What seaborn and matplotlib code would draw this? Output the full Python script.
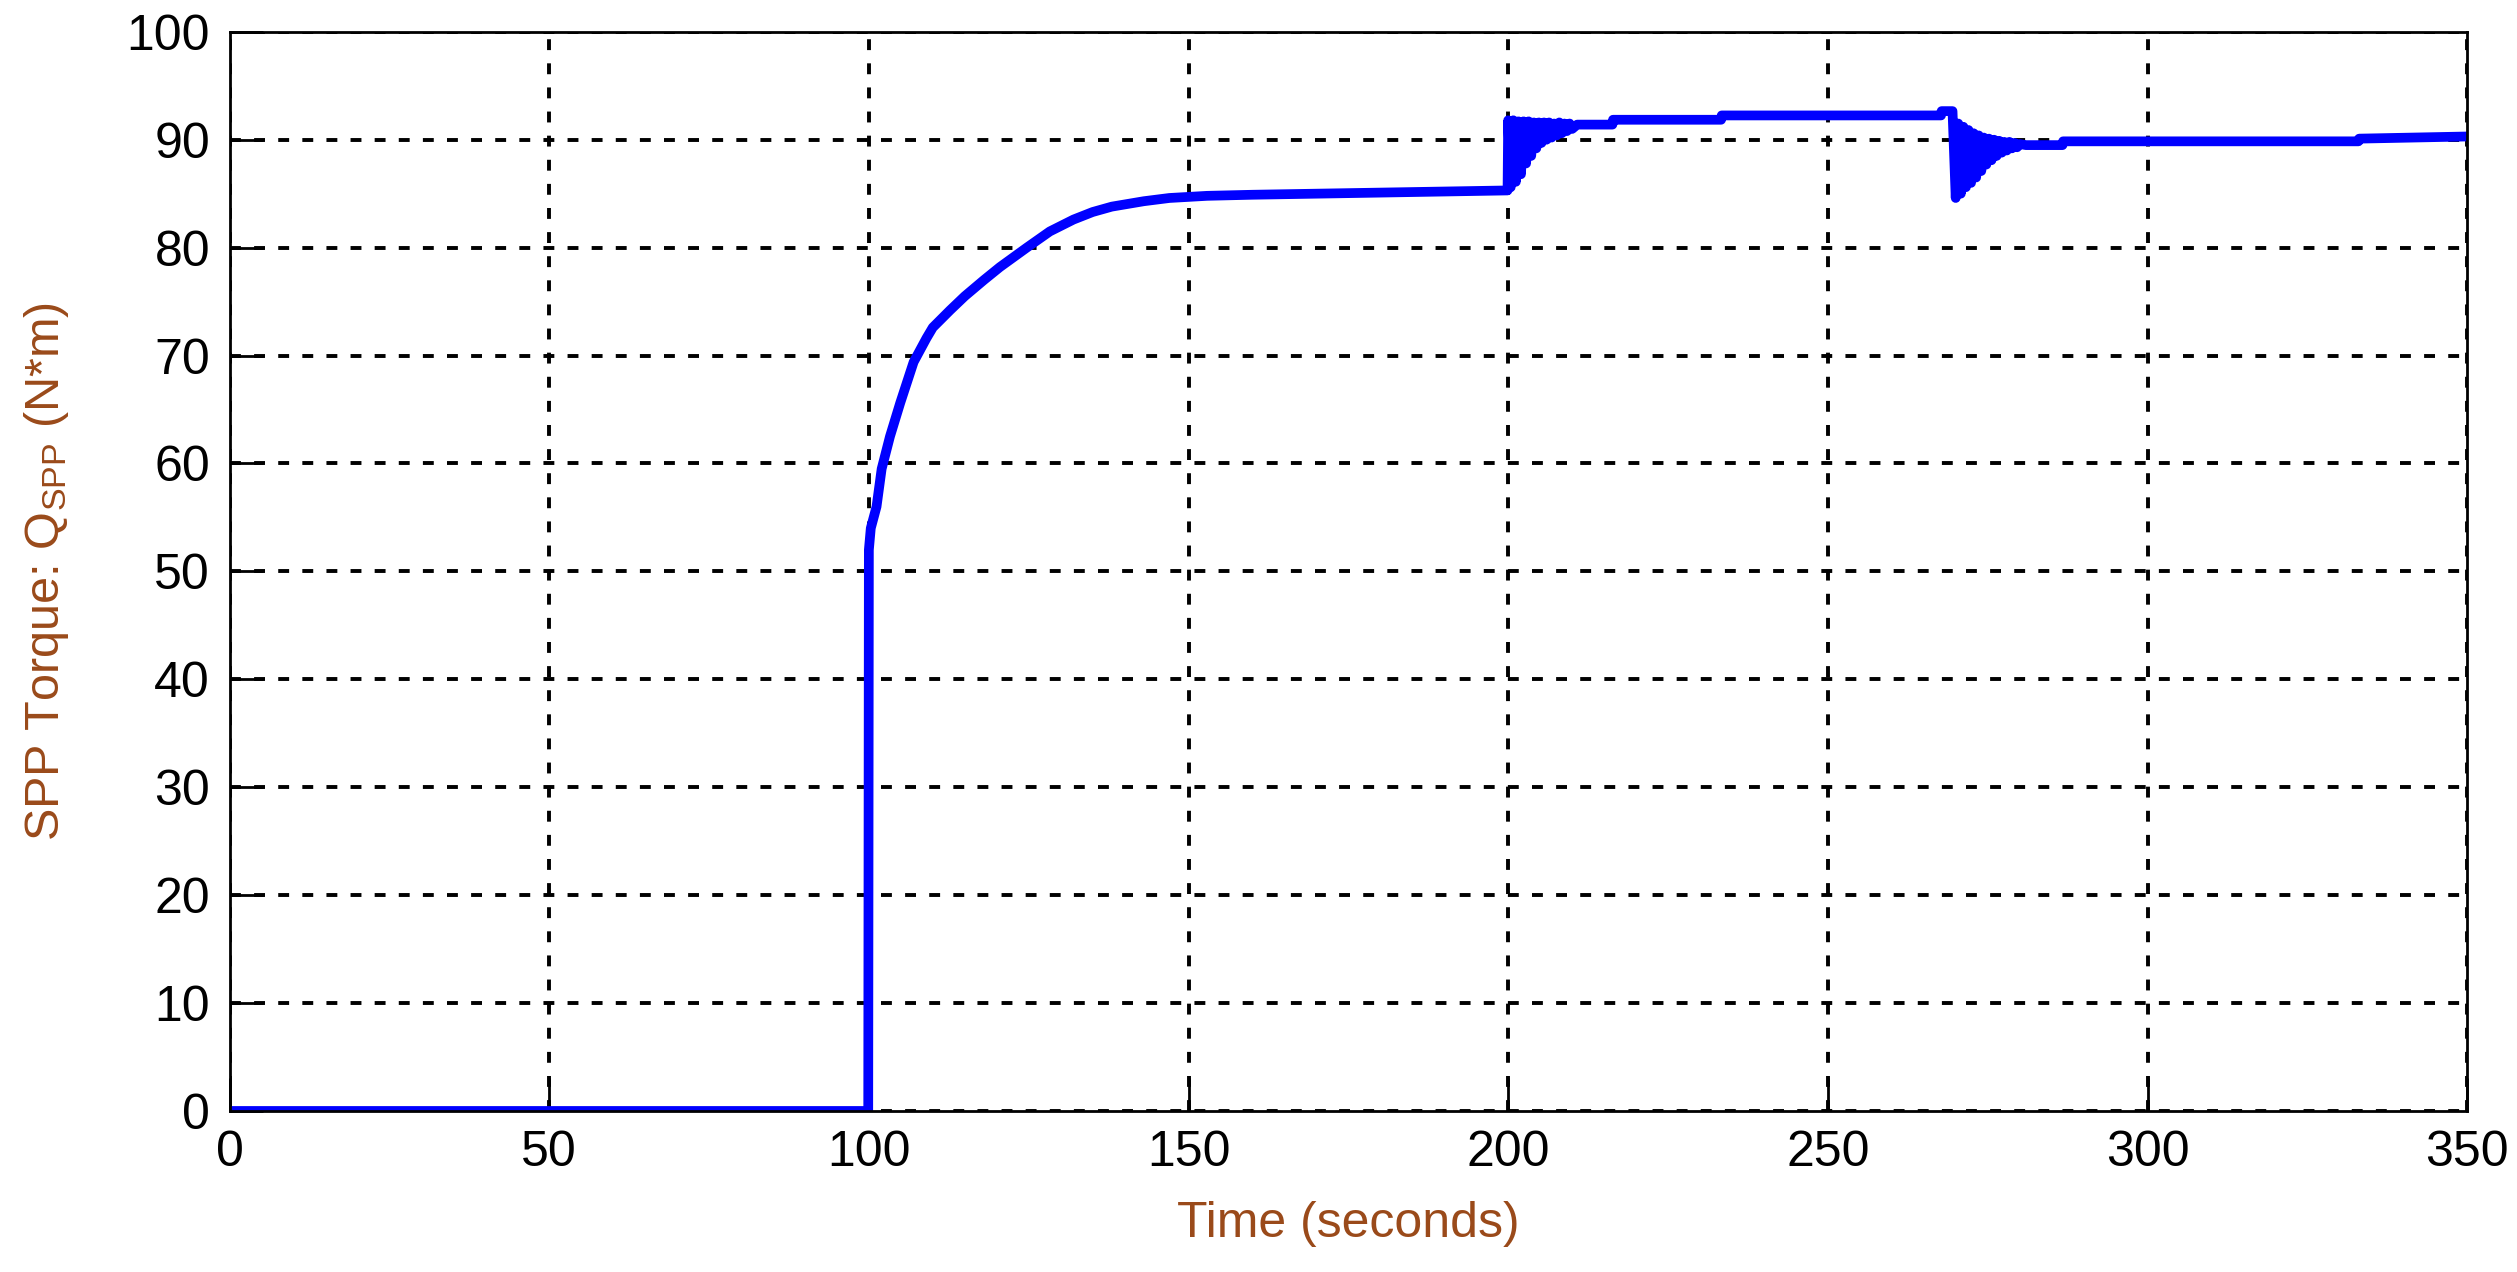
import numpy as np
import pandas as pd
import seaborn as sns
import matplotlib
matplotlib.use("Agg")
import matplotlib.pyplot as plt

# ---- data (time in s, torque in N*m) ----
# idle, step at 100 s and the slow rise up to 200 s
rise_t = [0, 99.9, 100.0, 100.3, 101.2, 102.0, 103.3, 104.9, 107.0, 109.0, 110.0,
          112.7, 115.0, 118.0, 120.5, 124.7, 128.3, 132.0, 135.0, 138.0, 143.0,
          147.0, 152.9, 160.0, 170.0, 180.0, 190.0, 199.9]
rise_y = [0, 0, 52.0, 54.0, 56.0, 59.5, 62.5, 65.6, 69.4, 71.6, 72.6,
          74.2, 75.5, 77.0, 78.2, 80.0, 81.5, 82.6, 83.3, 83.8, 84.3,
          84.6, 84.8, 84.9, 85.0, 85.1, 85.2, 85.3]

# ringing after the load change at 200 s
burst1_t = [200.0, 200.4, 200.8, 201.2, 201.6, 202.0, 202.4, 202.8, 203.2, 203.6,
            204.0, 204.4, 204.8, 205.2, 205.6, 206.0, 206.4, 206.8, 207.2, 207.6,
            208.0, 208.4, 208.8, 209.2, 209.6, 210.0]
burst1_y = [91.8, 85.6, 91.8, 86.1, 91.7, 86.8, 91.7, 87.8, 91.7, 88.5,
            91.6, 89.2, 91.6, 89.7, 91.6, 90.0, 91.6, 90.2, 91.5, 90.4,
            91.6, 90.6, 91.5, 90.8, 91.5, 91.0]

# plateau between the two disturbances
mid_t = [210.8, 216.3, 216.4, 233.3, 233.4, 267.7, 267.8, 269.5]
mid_y = [91.4, 91.4, 91.85, 91.85, 92.25, 92.25, 92.65, 92.65]

# ringing after the load change at 270 s
burst2_t = [270.0, 270.4, 270.8, 271.2, 271.6, 272.0, 272.4, 272.8, 273.2, 273.6,
            274.0, 274.4, 274.8, 275.2, 275.6, 276.0, 276.4, 276.8, 277.2, 277.6,
            278.0, 278.4, 278.8, 279.2, 279.6, 280.0]
burst2_y = [84.6, 91.5, 85.0, 91.2, 85.6, 90.9, 86.0, 90.6, 86.5, 90.4,
            87.1, 90.2, 87.7, 90.1, 88.1, 90.0, 88.5, 89.9, 88.8, 89.8,
            89.0, 89.8, 89.2, 89.7, 89.3, 89.6]

# final settling
tail_t = [281.0, 286.7, 286.8, 333.0, 333.1, 350.0]
tail_y = [89.5, 89.5, 89.85, 89.85, 90.1, 90.3]

x_ticks = [0, 50, 100, 150, 200, 250, 300, 350]
y_ticks = [0, 10, 20, 30, 40, 50, 60, 70, 80, 90, 100]

df = pd.DataFrame({
    "t": rise_t + burst1_t + mid_t + burst2_t + tail_t,
    "q": rise_y + burst1_y + mid_y + burst2_y + tail_y,
})

# ---- style ----
sns.set_style("ticks")
plt.rcParams["font.family"] = ["Liberation Sans", "DejaVu Sans"]
plt.rcParams["mathtext.fontset"] = "custom"
plt.rcParams["mathtext.rm"] = "Liberation Sans"
plt.rcParams["mathtext.it"] = "Liberation Sans"

label_col = "#9A4A1A"

fig = plt.figure(figsize=(25.17, 12.72), dpi=100)
ax = fig.add_axes([0.0912, 0.1266, 0.9802 - 0.0912, 0.975 - 0.1266])

sns.lineplot(data=df, x="t", y="q", ax=ax, color="#0000FF", linewidth=7,
             estimator=None, sort=False)

ax.set_xlim(0, 350)
ax.set_ylim(0, 100)
ax.set_xticks(x_ticks)
ax.set_yticks(y_ticks)
ax.grid(True, color="black", linestyle=(0, (2.8, 3.4)), linewidth=2.8)
ax.set_axisbelow(True)

for s in ax.spines.values():
    s.set_visible(True)
    s.set_linewidth(2.0)
    s.set_color("black")

ax.tick_params(direction="in", length=24, width=2.0, labelsize=36,
               pad=14, colors="black", top=False, right=False)

ax.set_xlabel("Time (seconds)", fontsize=36, color=label_col, labelpad=18)
ax.set_ylabel(r"SPP Torque: Q$_{\rm SPP}$ (N*m)", fontsize=35, color=label_col,
              labelpad=40)

fig.savefig("out.png", dpi=100, facecolor="white")
